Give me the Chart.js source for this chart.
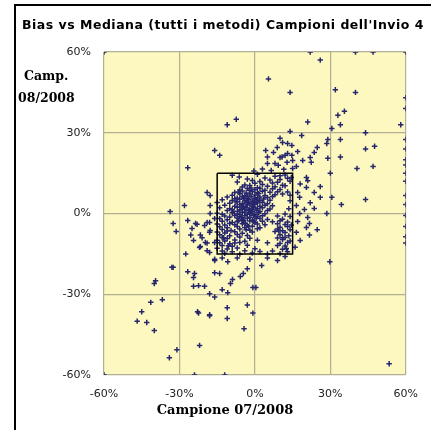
<!DOCTYPE html>
<html lang="it">
<head>
<meta charset="UTF-8">
<title>Bias vs Mediana</title>
<script src="https://cdn.jsdelivr.net/npm/chart.js@4.4.1/dist/chart.umd.min.js"></script>
<style>
  html, body { margin: 0; padding: 0; background: #fff; }
  #wrap { width: 431px; height: 430px; position: relative; }
</style>
</head>
<body>
<div id="wrap"><canvas id="chart"></canvas></div>
<script>
// Titles and tick labels
const chartTitle = "Bias vs Mediana (tutti i metodi) Campioni dell'Invio 4";
const yTitle = ["Camp.", "08/2008"];
const xTitle = "Campione 07/2008";
const tickValues = [-60, -30, 0, 30, 60];

// +/-15% reference square
const boxX = [-15, 15, 15, -15, -15];
const boxY = [15, 15, -15, -15, 15];

// Bias of each sample: [campione 07/2008, campione 08/2008] in %
// points outside the square
const outerPoints = [
  [-60,60],[22,60],[40,60],[47,60],[60,60],[26,57],[5.4,50],[14,45],[32,46],[40,45],
  [60,43],[60,39],[35.6,38],[33,36.5],[34,33],[58,33],[21,34],[-11,33],[-7.4,35],
  [30.6,31.6],[14,30.5],[18.6,29],[44,30],[34,27.5],[60,27.5],[29,27.5],[28.6,26],
  [44,24],[47.6,25],[60,24],[34,21],[60,20],[29,20.5],[60,18],[40.6,16.7],[47,17.5],
  [30,15],[60,15],[60,12],[60,6.7],[60,3.3],[60,-0.7],[60,-4.8],[60,-8.6],[60,-11],
  [-16,23.4],[-14,21.6],[-26.7,17],[-0.4,15.8],
  [4.3,23.4],[5,21],[7.4,22.7],[8.9,24.5],[10,28],[11,26.4],[10.8,21],[12,21.6],
  [13,22.3],[14.7,21.6],[15,19.7],[12.8,19],[9.3,17.9],[15,16.7],[19,19.7],[22,20.8],
  [23.6,22.7],[24.8,24.5],[22.4,19],[13,26],[14.7,25.3],[5,18.6],[8,18.6],[10,20.8],
  [3,16.5],[6.5,16],[11.5,16.4],[17,23],[16.5,17.5],
  [20.5,13.4],[21,12.2],[20.5,9.7],[26,10],[17,7.8],[23.6,7.8],[26,6],[17.8,6],[22,4],
  [19.7,1.5],[23.6,1.9],[17.8,0],[21,-1.5],[21.7,-3.7],[24.8,-6],[20.5,-5.2],[21.7,-8],
  [30.6,6],[34.4,3.3],[44,5.2],[28.6,0],[18,11],[16.5,3],[17,-3],[16.5,-7],[18,-10],[16,-12.5],
  [29.8,-17.9],[53.4,-55.8],[-12,-60],[-24,-60],[-60,-60],
  [2.7,-19.3],[0.4,-27.5],[-0.8,-27.5],[-3,-20.5],[-4.6,-22.3],[-5.8,-23.4],[-8.9,-24.5],
  [-9.7,-26],[-13,-28.3],[-10.8,-29.4],[-16,-31],[-18,-29.8],[-18,-37.6],[-11,-35],
  [-11,-39],[-3,-34],[-0.8,-37],[-4.3,-42.8],[-16,-22],[-14,-22.3],[-16,-17],[-10.8,-17.9],
  [-7,-16.5],[-2,-17],[5,-16.5],[9,-17.5],[12,-16],[-13,-16.5],
  [-27.5,-15],[-33,-20],[-39.5,-25],[-40,-26],[-26.7,-21.6],[-24,-22.3],[-24.4,-23.8],
  [-24.4,-27],[-22.4,-26.8],[-20,-27],[-41.4,-33],[-36.8,-32],[-45,-36.5],[-46.8,-40],
  [-43,-40.5],[-40,-43.5],[-22.8,-36.5],[-22.4,-37],[-18,-38],[-22,-49],[-31,-50.6],[-34,-53.6],
  [-28,3],[-33.7,0.7],[-32.5,-3.7],[-31.3,-6.7],[-26.7,-2.6],[-23,-4],[-25.5,-8],[-21.7,-8],
  [-21.7,-12.3],[-32.5,-20],[-18,-3.3],[-20,-4.5],[-16,-1.9],[-17.8,-6.3],[-19,-11],
  [-18,-14.5],[-16,-17.5],[-23.6,-3.7],[-25,-5.6],[-24.4,-10],[-21,-9],[-22,-12.6],
  [-19,-13.8],[-19,7.8],[-17.8,6.7],[-17.8,3],[-17.8,0],[-19,-3.3],[-18,-7],[-19.7,-10.8],[-16,-10.8]
];

// points inside the square
const innerPoints = [
  [-9,14.2],[-6.2,13.6],[1,14.6],[8,13.8],[12,14.3],[14.5,13.4],
  [-3,12.8],[4,13.2],[10,12.6],[13,13.1],
  [-7,11.7],[-1,12.3],[2,11.9],[6,12.4],[9,11.6],[14,12],
  [-4,10.6],[0,11.2],[3,10.8],[7,11.3],[11,10.5],
  [-5,9.8],[-2,10.4],[1,9.6],[5,10.1],[8,9.9],[12,10.3],
  [-6,8.7],[-3,9.3],[0,8.8],[2,9.4],[4,8.6],[7,9.2],[10,8.9],
  [-8,7.8],[-5,8.4],[-3.5,7.6],[-1,8.1],[1,7.7],[3,8.3],[6,7.9],[9,8.1],
  [-9,6.8],[-6,7.3],[-4,6.6],[-2,7.2],[0,6.9],[1.5,7.4],[4,6.7],[8,7],[11,7.2],[14,6.8],
  [-11,6.1],[-7,5.8],[-5,6.3],[-3,5.6],[-1.5,6.2],[0,5.7],[2,6.1],[5,5.9],[7,6.3],
  [-13,5.1],[-9,4.8],[-6,5.3],[-4,4.7],[-2.5,5.2],[-1,4.6],[0.5,5.1],[2,4.8],[3.5,5.4],[6,4.9],[14,4.7],
  [-15,4.1],[-10,3.8],[-7.5,4.3],[-5,3.6],[-3.5,4.2],[-2,3.7],[-0.5,4.3],[1,3.9],[3,4.1],[5,3.6],
  [-12,3.1],[-8,2.7],[-6,3.3],[-4.5,2.6],[-3,3.2],[-1,2.8],[0,3.4],[2,2.7],[4,3.1],[7,2.9],
  [-14,2.1],[-10,1.8],[-7,2.3],[-5,1.6],[-3.5,2.2],[-2,1.7],[-0.5,2.3],[1,1.9],[3,2.1],[6,1.7],[13.5,1.8],
  [-11,1.1],[-8.5,0.7],[-6,1.3],[-4,0.6],[-2.5,1.2],[-1,0.8],[0.5,1.3],[2,0.7],[5,1.1],
  [-15,0.1],[-13,-0.3],[-9,0.3],[-7,-0.2],[-5,0.4],[-3,-0.3],[-1.5,0.2],[0,-0.4],[1.5,0.3],[4,-0.1],[12,-0.2],
  [-12,-0.9],[-10,-1.3],[-8,-0.7],[-6,-1.2],[-4,-0.8],[-2,-1.4],[-0.5,-0.7],[1,-1.1],[3,-0.8],[9,-0.9],[14,-1.1],
  [-14,-1.9],[-11,-2.3],[-7,-1.7],[-5,-2.2],[-3,-1.8],[-1,-2.4],[2,-1.9],[5,-2.2],[11,-2.1],
  [-13,-2.9],[-9,-3.3],[-6.5,-2.7],[-4.5,-3.2],[-2,-2.8],[0,-3.3],[3,-2.9],[7,-3.1],[10,-2.7],[13,-3.2],
  [-15,-3.9],[-12,-4.3],[-10,-3.7],[-8,-4.2],[-5,-3.8],[-3,-4.4],[1,-3.9],[4,-4.2],[9,-3.8],[12,-4.1],[14.5,-4.3],
  [-14,-4.9],[-11,-5.3],[-7,-4.8],[-4,-5.2],[-1,-4.7],[2,-5.3],[10,-5.1],[13,-4.8],
  [-13,-5.9],[-9.5,-6.3],[-6,-5.8],[-2,-6.2],[1,-5.7],[9,-5.8],[11,-6.4],[14,-6],
  [-15,-6.9],[-12,-7.2],[-8,-6.8],[-5,-7.3],[-1,-6.9],[8,-6.7],[12,-7.1],
  [-14,-7.9],[-10,-8.3],[-7,-7.8],[-3,-8.2],[10,-7.9],[13.5,-8.3],
  [-13,-8.9],[-11,-9.3],[-6,-8.7],[-2,-9.2],[9,-9.1],[12,-8.9],
  [-15,-9.9],[-12,-10.2],[-8,-9.8],[-4,-10.3],[1,-9.9],[11,-9.7],[14,-10.2],
  [-14,-10.9],[-10,-11.2],[-6,-10.8],[5,-10.9],[10,-11.1],[13,-10.8],
  [-13,-11.9],[-9,-12.2],[-3,-11.8],[9,-11.9],[12,-12.1],
  [-15,-12.9],[-11,-13.2],[-7,-12.8],[0,-13.1],[11,-13.3],
  [-13,-13.9],[-9,-14.2],[-4,-13.8],[2,-14.1],[7,-13.9],[13,-14.2],
  [-12,-14.8],[-6,-15.1],[-1,-14.7],[5,-15],[10,-14.9],
  [-7,4.5],[-5.5,2.5],[-4,1.5],[-3,6.5],[-2,0],[-1,3.5],[0.5,-1.8],[-6,-0.5],[-4.5,-2.5],
  [-2.5,-4.8],[-8,5.5],[-6.5,8],[-1.5,9.5],[1,5.8],[-0.5,-3],[-3.5,-6],[-7,-3],[-9,1.5],
  [-11,-6.5],[-12.5,-9],[-10.5,-12],[-8,-11],[11,-9],[12.5,-13],[9.5,-6.5],[13,8],[10,14],
  [-4.5,5.8],[-2.8,4.1],[-1.2,1.6],[-5.2,-1.5],[-3.8,-3.6],[-6.8,0.8],[-2.2,8.6],[0.8,4.4]
];

const plotBg = {
  id: 'plotBg',
  beforeDraw(chart) {
    const { ctx, chartArea: a } = chart;
    ctx.save();
    ctx.fillStyle = '#ffffff';
    ctx.fillRect(0, 0, chart.width, chart.height);
    ctx.fillStyle = '#fcf8bf';
    ctx.fillRect(a.left, a.top, a.right - a.left, a.bottom - a.top);
    // outer frame (left and top edges)
    ctx.fillStyle = '#000';
    ctx.fillRect(14, 4, 2, chart.height - 4);
    ctx.fillRect(14, 4, chart.width - 14, 2);
    ctx.restore();
  },
  afterDraw(chart) {
    const { ctx } = chart;
    ctx.save();
    ctx.fillStyle = '#000';
    ctx.textBaseline = 'middle';
    ctx.textAlign = 'left';
    ctx.font = 'bold 12.5px "DejaVu Sans"';
    ctx.letterSpacing = '0.5px';
    ctx.fillText(chartTitle, 22, 26);
    ctx.letterSpacing = '0px';
    ctx.font = 'bold 12.5px "DejaVu Serif"';
    ctx.fillText(yTitle[0], 24, 77);
    ctx.fillText(yTitle[1], 18, 99);
    ctx.textAlign = 'center';
    ctx.font = 'bold 13px "DejaVu Serif"';
    ctx.fillText(xTitle, 225, 411);
    ctx.restore();
  }
};

const axisOpts = (fit) => ({
  type: 'linear',
  min: -60,
  max: 60,
  afterBuildTicks: (s) => { s.ticks = tickValues.map(v => ({ value: v })); },
  afterFit: fit,
  ticks: {
    callback: v => v + '%',
    font: { family: 'DejaVu Sans', size: 11 },
    color: '#222',
    padding: 13,
  },
  grid: { color: '#b2b094', lineWidth: 1.2, drawTicks: false },
  border: { display: false },
});

new Chart(document.getElementById('chart'), {
  type: 'scatter',
  data: {
    datasets: [
      {
        label: 'Campioni',
        data: outerPoints.concat(innerPoints).map(([x, y]) => ({ x, y })),
        pointStyle: 'cross',
        pointRadius: 2.7,
        pointBorderWidth: 1.5,
        borderColor: '#26266e',
        backgroundColor: '#26266e',
        order: 2,
      },
      {
        label: 'Box',
        data: boxX.map((x, i) => ({ x, y: boxY[i] })),
        showLine: true,
        borderColor: '#000',
        borderWidth: 1.5,
        pointRadius: 0,
        fill: false,
        order: 1,
      }
    ]
  },
  options: {
    responsive: true,
    maintainAspectRatio: false,
    devicePixelRatio: 1,
    animation: false,
    layout: { padding: { left: 0, right: 17, top: 52, bottom: 0 } },
    plugins: { legend: { display: false }, tooltip: { enabled: false }, title: { display: false } },
    scales: {
      x: axisOpts(s => { s.height = 55; }),
      y: axisOpts(s => { s.width = 104; }),
    }
  },
  plugins: [plotBg]
});
</script>
</body>
</html>
